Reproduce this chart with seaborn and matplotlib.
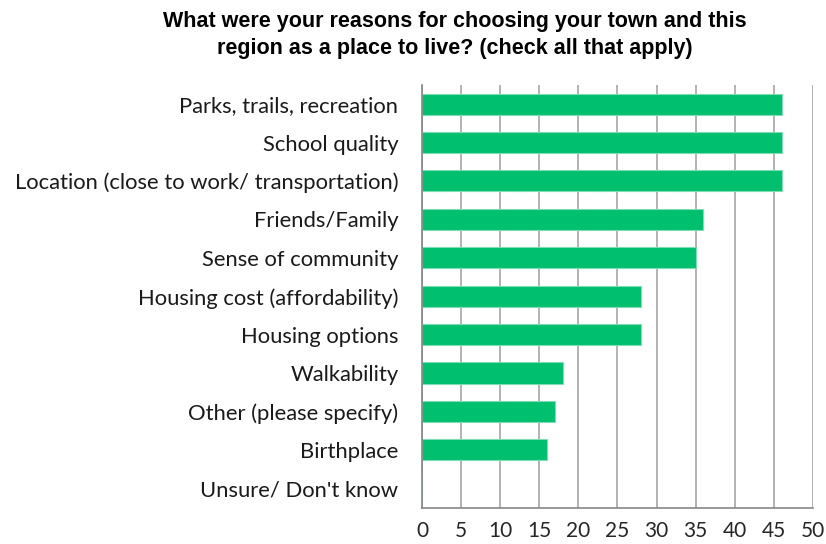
import matplotlib
import matplotlib.pyplot as plt
import pandas as pd
import seaborn as sns

matplotlib.use("Agg")

categories = [
    "Parks, trails, recreation",
    "School quality",
    "Location (close to work/ transportation)",
    "Friends/Family",
    "Sense of community",
    "Housing cost (affordability)",
    "Housing options",
    "Walkability",
    "Other (please specify)",
    "Birthplace",
    "Unsure/ Don't know",
]
counts = [46, 46, 46, 36, 35, 28, 28, 18, 17, 16, 0]
x_ticks = list(range(0, 55, 5))

title = ("What were your reasons for choosing your town and this\n"
         "region as a place to live? (check all that apply)")

BAR_COLOR = "#00BF6F"
GRID_COLOR = "#A6A6A6"

sns.set_style("white")
plt.rcParams["font.family"] = ["Lato", "DejaVu Sans"]

df = pd.DataFrame({"reason": categories, "count": counts})

fig = plt.figure(figsize=(8.26, 5.44), dpi=100)
ax = fig.add_axes([0.511, 0.067, 0.473, 0.777])

sns.barplot(
    data=df,
    y="reason",
    x="count",
    order=categories,
    color=BAR_COLOR,
    saturation=1,
    width=0.55,
    edgecolor="#7EDDB5",
    linewidth=0.8,
    ax=ax,
)

ax.set_xlim(0, 50)
ax.set_ylim(len(categories) - 0.5, -0.5)
ax.set_xticks(x_ticks)
ax.set_xticklabels([str(t) for t in x_ticks], fontsize=15, color="#262626")
ax.set_yticks(range(len(categories)))
ax.set_yticklabels(categories, fontsize=15.8, color="#1a1a1a")
ax.set_yticks([i - 0.5 for i in range(len(categories) + 1)], minor=True)
ax.tick_params(axis="y", which="major", length=0, pad=17)
ax.tick_params(axis="y", which="minor", length=6, color="#868686", width=1)
ax.tick_params(axis="x", which="major", length=6, color="#868686", width=1, pad=4)

ax.set_axisbelow(True)
ax.xaxis.grid(True, color=GRID_COLOR, linewidth=1.2)
ax.yaxis.grid(False)
for side in ["top", "right"]:
    ax.spines[side].set_visible(False)
for side in ["left", "bottom"]:
    ax.spines[side].set_color("#868686")
    ax.spines[side].set_linewidth(1.2)
ax.set_xlabel("")
ax.set_ylabel("")

fig.text(0.551, 0.98, title, ha="center", va="top", fontsize=15.5,
         fontweight="bold", color="black",
         family=["Liberation Sans Narrow", "Liberation Sans", "DejaVu Sans"],
         linespacing=1.4)

fig.savefig("out.png", dpi=100)
plt.close(fig)
